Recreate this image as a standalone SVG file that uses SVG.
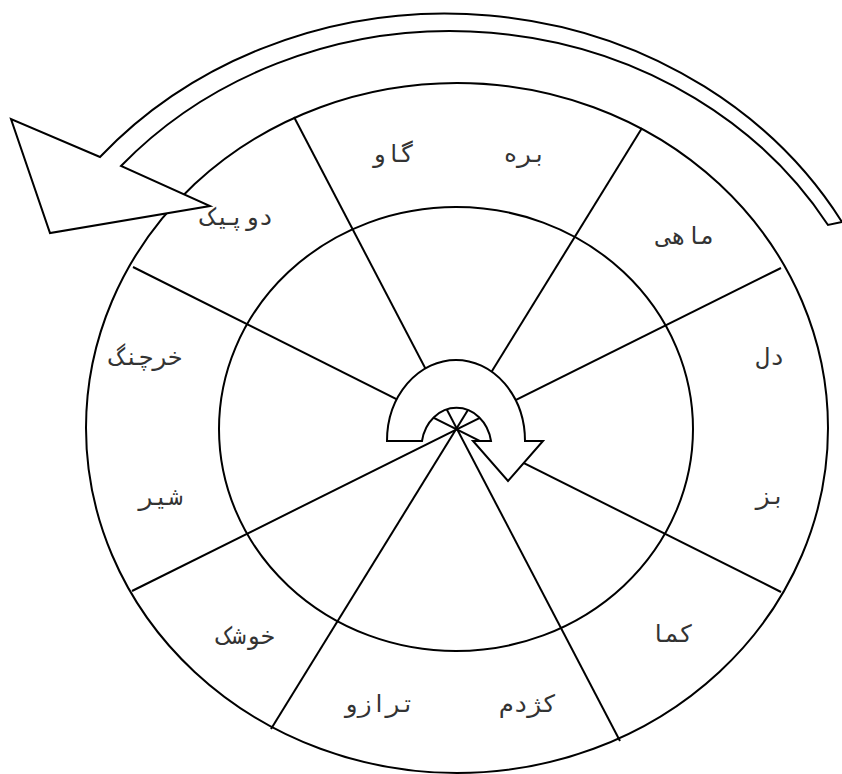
<svg xmlns="http://www.w3.org/2000/svg" width="842" height="774" viewBox="0 0 842 774">
<style>
.ln{fill:none;stroke:#000;stroke-width:2}
.ar{fill:#fff;stroke:#000;stroke-width:2;stroke-linejoin:miter}
.lb{font-family:"DejaVu Sans Mono",monospace;font-size:24px;fill:#333;text-anchor:middle}
</style>
<rect width="842" height="774" fill="#fff"/>
<g id="wheel">
<ellipse class="ln" cx="457" cy="428" rx="371" ry="345"/>
<ellipse class="ln" cx="456" cy="429" rx="237" ry="222"/>
</g>
<g id="connectors">
<line class="ln" x1="294" y1="117" x2="620" y2="741"/>
<line class="ln" x1="642" y1="128" x2="271" y2="729"/>
<line class="ln" x1="781" y1="268" x2="132" y2="591"/>
<line class="ln" x1="133" y1="267" x2="781" y2="592"/>
</g>
<g id="center-arrow">
<path class="ar" d="M387,441 A69 81 0 0 1 525,441 L543,441 L508,481 L473,441 L491,441 A35 40 0 0 0 422,441 Z"/>
</g>
<g id="outer-arrow">
<path class="ar" d="M842,222 A457 415 0 0 0 100,157 L11,119 L50,233 L210,206 L121,166 A439 397 0 0 1 828,225 Z"/>
</g>
<g id="labels">
<g id="l-bare"><text class="lb" x="525" y="162">بره</text></g>
<g id="l-gav"><text class="lb" x="393" y="162">گاو</text></g>
<g id="l-dopeik"><text class="lb" x="237" y="225">دوپیک</text></g>
<g id="l-mahi"><text class="lb" x="686" y="244">ماهی</text></g>
<g id="l-del"><text class="lb" x="770" y="365">دل</text></g>
<g id="l-boz"><text class="lb" x="771" y="504">بز</text></g>
<g id="l-kama"><text class="lb" x="672" y="642">کما</text></g>
<g id="l-kajdom"><text class="lb" x="528" y="712">کژدم</text></g>
<g id="l-tarazoo"><text class="lb" x="379" y="712">ترازو</text></g>
<g id="l-khooshak"><text class="lb" x="246" y="644">خوشک</text></g>
<g id="l-shir"><text class="lb" x="161" y="505">شیر</text></g>
<g id="l-kharchang"><text class="lb" x="146" y="365">خرچنگ</text></g>
</g>
</svg>
